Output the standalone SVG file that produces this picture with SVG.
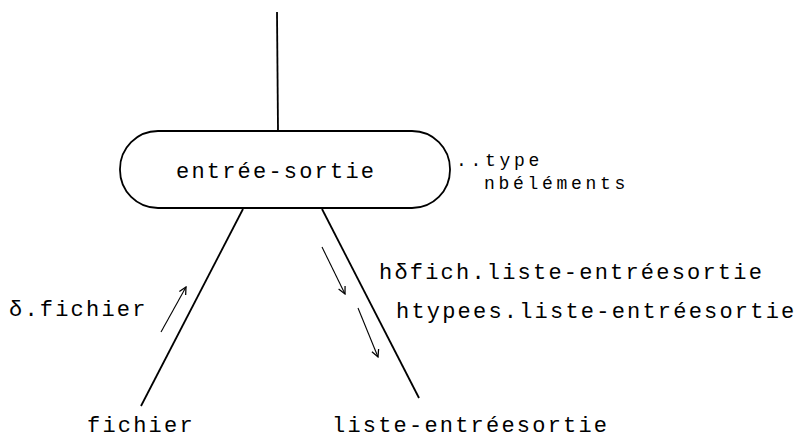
<svg xmlns="http://www.w3.org/2000/svg" width="799" height="438" viewBox="0 0 799 438">
<style>
.ln{stroke:#000;stroke-width:1.8;fill:none}
.ar{stroke:#000;stroke-width:1.1;fill:none}
.t{font-family:"Liberation Mono","Courier New",monospace;font-size:22px;letter-spacing:2.2px;fill:#000}
.s{font-size:18px;letter-spacing:3.7px}
</style>
<defs>
<marker id="ah" viewBox="0 0 10 10" refX="9" refY="5" markerWidth="9" markerHeight="9" markerUnits="userSpaceOnUse" orient="auto">
<path d="M1,1 L9,5 L1,9" fill="none" stroke="#000" stroke-width="1.4"/>
</marker>
</defs>
<rect width="799" height="438" fill="#fff"/>
<g id="connectors">
<line class="ln" x1="277" y1="12" x2="278" y2="131"/>
<line class="ln" x1="243" y1="209" x2="141" y2="406"/>
<line class="ln" x1="322" y1="209" x2="419" y2="398"/>
<line class="ar" x1="161" y1="332" x2="186" y2="287" marker-end="url(#ah)"/>
<line class="ar" x1="322" y1="247" x2="345" y2="294" marker-end="url(#ah)"/>
<line class="ar" x1="358" y1="308" x2="378" y2="357" marker-end="url(#ah)"/>
</g>
<g id="entree-sortie">
<rect class="ln" x="120" y="131" width="330" height="77" rx="38" ry="38"/>
<text class="t" x="176" y="178">entrée-sortie</text>
</g>
<g id="attrs">
<text class="t s" x="456" y="166">..type</text>
<text class="t s" x="484" y="189">nbéléments</text>
</g>
<g id="fichier">
<text class="t" x="87" y="432">fichier</text>
</g>
<g id="liste-entreesortie">
<text class="t" x="332" y="432">liste-entréesortie</text>
</g>
<g id="labels">
<text class="t" x="9" y="316">δ.fichier</text>
<text class="t" x="379" y="279">hδfich.liste-entréesortie</text>
<text class="t" x="396" y="318">htypees.liste-entréesortie</text>
</g>
</svg>
